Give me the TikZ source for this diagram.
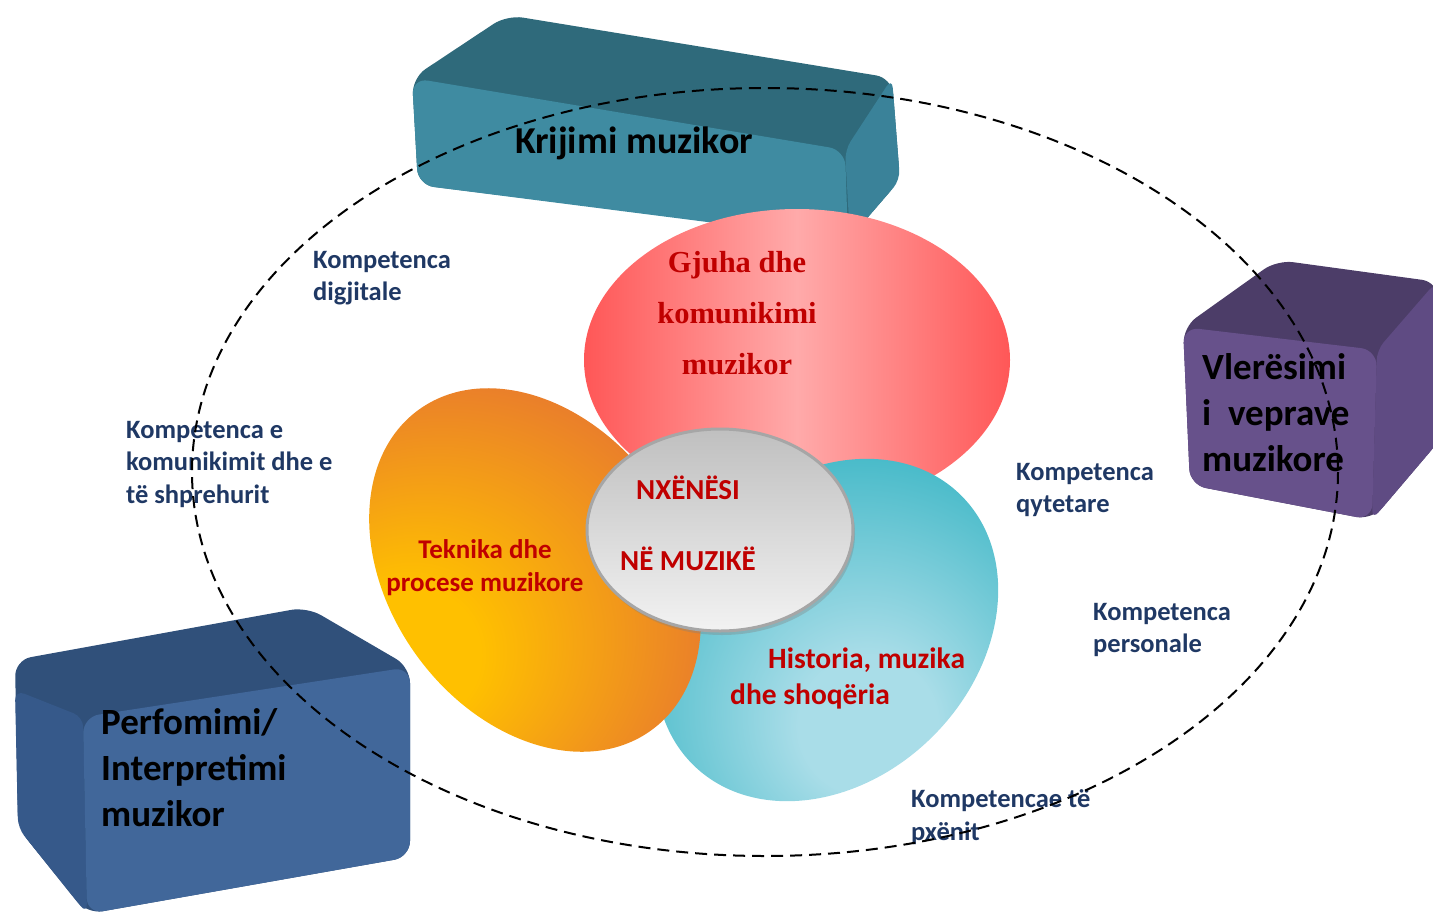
\documentclass[tikz,border=0pt]{standalone}
\usepackage{fontspec}
\setmainfont{Carlito}
\newfontfamily\serifbold{Liberation Serif}
\usetikzlibrary{shadows}
\definecolor{tealfront}{HTML}{3F8BA1}
\definecolor{tealtop}{HTML}{2F6A7B}
\definecolor{tealside}{HTML}{3A8299}
\definecolor{purfront}{HTML}{67518B}
\definecolor{purtop}{HTML}{4C3D68}
\definecolor{purside}{HTML}{5F4B83}
\definecolor{bluefront}{HTML}{41679A}
\definecolor{bluetop}{HTML}{30507A}
\definecolor{blueside}{HTML}{36598A}
\definecolor{pinkedge}{HTML}{FF5757}
\definecolor{pinkmid}{HTML}{FFAAAA}
\definecolor{oryellow}{HTML}{FFC000}
\definecolor{orred}{HTML}{E2673A}
\definecolor{cyanlight}{HTML}{A9DDE8}
\definecolor{cyanedge}{HTML}{22ADBD}
\definecolor{navy}{HTML}{1F3864}
\definecolor{wine}{HTML}{C00000}
\pgfdeclareradialshading{orangeglow}{\pgfpoint{-20bp}{-14bp}}{color(0bp)=(oryellow); color(10bp)=(oryellow); color(44bp)=(orred); color(80bp)=(orred)}
\pgfdeclareradialshading{cyanglow}{\pgfpoint{6bp}{-14bp}}{color(0bp)=(cyanlight); color(9bp)=(cyanlight); color(40bp)=(cyanedge); color(80bp)=(cyanedge)}
\tikzset{
  face/.style={rounded corners=16pt},
  lbl/.style={font=\fontsize{26.5}{32.5}\selectfont\bfseries, text=navy, align=left, anchor=west, inner sep=0pt},
  boxtext/.style={font=\fontsize{37}{46}\selectfont\bfseries, text=black, align=left, inner sep=0pt},
  blobtext/.style={font=\fontsize{27}{33}\selectfont\bfseries, text=wine, align=center, inner sep=0pt}
}
\begin{document}
\begin{tikzpicture}[x=1pt,y=-1pt]
\useasboundingbox (0,0) rectangle (1433,916);
\fill[tealtop,face] (412,78) -- (507,15) -- (892,78) -- (900,180) -- (850,238) -- (418,185) -- cycle;
\fill[tealside,rounded corners=10pt] (845,150) -- (892,78) -- (900,180) -- (850,238) -- cycle;
\fill[tealfront,face] (412,78) -- (845,150) -- (848,240) -- (418,185) -- cycle;
\fill[purtop,face] (1183,327) -- (1277,260) -- (1438,282) -- (1440,440) -- (1372,520) -- (1190,485) -- cycle;
\fill[purside,rounded corners=10pt] (1377,350) -- (1436,282) -- (1440,440) -- (1372,520) -- cycle;
\fill[purfront,face] (1183,327) -- (1377,350) -- (1372,520) -- (1190,485) -- cycle;
\fill[bluetop,face] (15,660) -- (307,607) -- (410,667) -- (410,857) -- (87,914) -- (18,828) -- cycle;
\fill[blueside,rounded corners=10pt] (15,690) -- (83,717) -- (87,914) -- (18,828) -- cycle;
\fill[bluefront,face] (83,717) -- (410,667) -- (410,857) -- (87,914) -- cycle;
\shade[left color=pinkedge, right color=pinkedge, middle color=pinkmid] (797,360) ellipse[x radius=213, y radius=151];
\shade[shading=cyanglow] (827,630) ellipse[x radius=190, y radius=150, rotate=45];
\shade[shading=orangeglow] (535,570) ellipse[x radius=198, y radius=146, rotate=-54];
\shade[top color=black!25, bottom color=black!5, draw=black!35, line width=3pt,
  drop shadow={shadow xshift=2pt, shadow yshift=-4pt, opacity=.35}] (720,530) ellipse[x radius=133, y radius=101];
\node[boxtext, font=\fontsize{38}{46}\selectfont\bfseries] (krijimi) at (634,143) {Krijimi muzikor};
\node[boxtext, anchor=west] (vleresimi) at (1202,413) {Vlerësimi\\i\ \ veprave\\muzikore};
\node[boxtext, anchor=west] (perfomimi) at (101,768) {Perfomimi/\\Interpretimi\\muzikor};
\node[lbl] (digjitale) at (313,278) {Kompetenca\\digjitale};
\node[lbl] (komunikimi) at (126,464) {Kompetenca e\\komunikimit dhe e\\të shprehurit};
\node[lbl] (qytetare) at (1016,490) {Kompetenca\\qytetare};
\node[lbl] (personale) at (1093,630) {Kompetenca\\personale};
\node[lbl] (pxenit) at (911,817) {Kompetencae të\\pxënit};
\node[font=\fontsize{30.5}{51}\selectfont\serifbold\bfseries, text=wine, align=center, inner sep=0pt] (gjuha) at (737,313) {Gjuha dhe\\komunikimi\\muzikor};
\node[blobtext, font=\fontsize{29}{71}\selectfont\bfseries] (nxenesi) at (688,523) {NXËNËSI\\NË MUZIKË};
\node[blobtext] (teknika) at (485,568) {Teknika dhe\\procese muzikore};
\node[blobtext, font=\fontsize{29.5}{36}\selectfont\bfseries, align=left, anchor=west] (historia) at (730,678) {\hspace*{38pt}Historia, muzika\\dhe shoqëria};
\draw[line width=2pt, dash pattern=on 12pt off 7pt] (765,472) ellipse[x radius=573, y radius=384];
\end{tikzpicture}
\end{document}
